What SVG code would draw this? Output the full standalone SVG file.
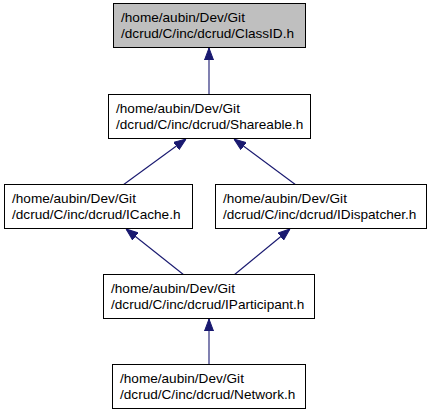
<svg xmlns="http://www.w3.org/2000/svg" width="432" height="416" viewBox="0 0 432 416">
<style>
  .box{fill:#ffffff;stroke:#000000;stroke-width:1}
  .cur{fill:#bfbfbf}
  text{font-family:"Liberation Sans",Arial,sans-serif;font-size:13.6px;fill:#000000}
  .edge{stroke:#191970;stroke-width:1.1;fill:none}
</style>
<defs>
  <marker id="ah" viewBox="0 0 12 10" refX="12" refY="5" markerWidth="12" markerHeight="10" markerUnits="userSpaceOnUse" orient="auto">
    <path d="M0,0.5 L12,5 L0,9.5 Z" fill="#191970" stroke="#191970"/>
  </marker>
</defs>
<g id="edges">
  <line class="edge" x1="209" y1="95" x2="209" y2="48" marker-end="url(#ah)"/>
  <line class="edge" x1="123" y1="185" x2="186" y2="139" marker-end="url(#ah)"/>
  <line class="edge" x1="296" y1="185" x2="234" y2="139" marker-end="url(#ah)"/>
  <line class="edge" x1="184" y1="275" x2="126" y2="229" marker-end="url(#ah)"/>
  <line class="edge" x1="234" y1="275" x2="290" y2="229" marker-end="url(#ah)"/>
  <line class="edge" x1="209" y1="365" x2="209" y2="319" marker-end="url(#ah)"/>
</g>
<g id="ClassID">
  <rect class="box cur" x="113.5" y="3.5" width="192" height="44"/>
  <text x="121" y="22">/home/aubin/Dev/Git</text>
  <text x="121" y="38">/dcrud/C/inc/dcrud/ClassID.h</text>
</g>
<g id="Shareable">
  <rect class="box" x="108.5" y="94.5" width="202" height="44"/>
  <text x="116" y="113">/home/aubin/Dev/Git</text>
  <text x="116" y="129">/dcrud/C/inc/dcrud/Shareable.h</text>
</g>
<g id="ICache">
  <rect class="box" x="4.5" y="184.5" width="188" height="44"/>
  <text x="12" y="203">/home/aubin/Dev/Git</text>
  <text x="12" y="219">/dcrud/C/inc/dcrud/ICache.h</text>
</g>
<g id="IDispatcher">
  <rect class="box" x="215.5" y="184.5" width="211" height="44"/>
  <text x="223" y="203">/home/aubin/Dev/Git</text>
  <text x="223" y="219">/dcrud/C/inc/dcrud/IDispatcher.h</text>
</g>
<g id="IParticipant">
  <rect class="box" x="103.5" y="274.5" width="211" height="44"/>
  <text x="111" y="293">/home/aubin/Dev/Git</text>
  <text x="111" y="309">/dcrud/C/inc/dcrud/IParticipant.h</text>
</g>
<g id="Network">
  <rect class="box" x="112.5" y="364.5" width="193" height="44"/>
  <text x="120" y="383">/home/aubin/Dev/Git</text>
  <text x="120" y="399">/dcrud/C/inc/dcrud/Network.h</text>
</g>
</svg>
